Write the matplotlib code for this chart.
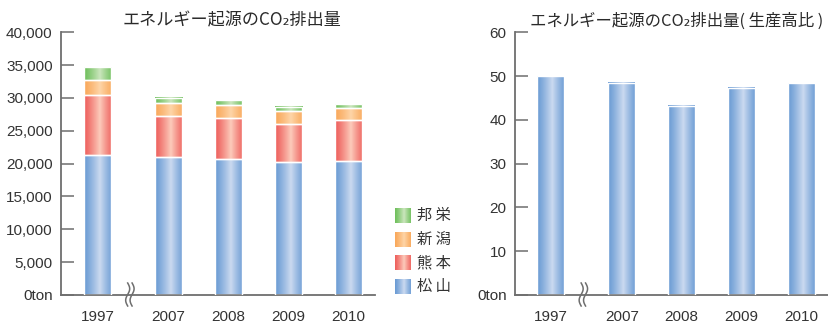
import numpy as np
import matplotlib
matplotlib.use("Agg")
import matplotlib.pyplot as plt
from matplotlib.colors import to_rgb
from matplotlib.transforms import blended_transform_factory

plt.rcParams['font.family'] = ['Liberation Sans', 'Noto Sans CJK JP', 'DejaVu Sans']

# ---- data ----
years = ["1997", "2007", "2008", "2009", "2010"]
matsuyama = [21300, 21000, 20700, 20200, 20400]   # 松山
kumamoto = [9100, 6200, 6300, 5800, 6200]         # 熊本
niigata = [2400, 2000, 2000, 2000, 1900]          # 新潟
houei = [1900, 850, 750, 700, 600]                # 邦栄
ratio = [50.0, 48.5, 43.2, 47.3, 48.4]            # 生産高比

left_ticks = [0, 5000, 10000, 15000, 20000, 25000, 30000, 35000, 40000]
left_ticklabels = ["0ton", "5,000", "10,000", "15,000", "20,000", "25,000",
                   "30,000", "35,000", "40,000"]
right_ticks = [0, 10, 20, 30, 40, 50, 60]
right_ticklabels = ["0ton", "10", "20", "30", "40", "50", "60"]

series_names = ["松 山", "熊 本", "新 潟", "邦 栄"]

# ---- styling ----
positions = np.array([0.0, 1.18, 2.18, 3.18, 4.18])
bar_w = 0.45
break_x = 0.54
shades = {
    "blue": ("#6a9bd4", "#cbdaf0"),
    "red": ("#ee5f5c", "#fccbbb"),
    "orange": ("#f9a85a", "#fed5a8"),
    "green": ("#6fbf5c", "#cbe6bd"),
}
series_colors = ["blue", "red", "orange", "green"]
axis_col = "#6e6e6e"
text_col = "#333333"
title_col = "#2a2a2a"
title_font = ['Noto Sans CJK JP', 'DejaVu Sans']


def gradient(name, n=80):
    dark = np.array(to_rgb(shades[name][0]))
    light = np.array(to_rgb(shades[name][1]))
    x = np.linspace(0, 1, n)
    peak = 0.57
    w = np.where(x < peak, x / peak, 1 - (x - peak) / (1 - peak) * 0.85)
    w = np.clip(w, 0, 1) ** 1.2
    img = dark[None, :] + (light - dark)[None, :] * w[:, None]
    return img[None, :, :]


def shade_bars(ax, bars, name):
    img = gradient(name)
    for p in bars:
        x, y = p.get_x(), p.get_y()
        w, h = p.get_width(), p.get_height()
        if h <= 0:
            continue
        ax.imshow(img, extent=[x, x + w, y, y + h], aspect='auto',
                  interpolation='bilinear', zorder=2)
        p.set_facecolor('none')
        p.set_edgecolor('white')
        p.set_linewidth(1.0)
        p.set_zorder(3)


def style_axes(ax, ticks, labels, ymax, xlim):
    ax.set_xlim(*xlim)
    ax.set_ylim(0, ymax)
    for s in ("top", "right"):
        ax.spines[s].set_visible(False)
    for s in ("left", "bottom"):
        ax.spines[s].set_color(axis_col)
        ax.spines[s].set_linewidth(1.3)
    ax.set_yticks(ticks)
    ax.set_yticklabels(labels)
    ax.set_xticks(positions)
    ax.set_xticklabels(years)
    ax.tick_params(axis='y', direction='in', length=9, width=1.1,
                   color=axis_col, pad=6, labelsize=11, labelcolor=text_col)
    ax.tick_params(axis='x', length=0, pad=11, labelsize=11,
                   labelcolor=text_col)
    ax.set_facecolor('none')


def draw_break(ax, xpos, px_per_unit, ax_h_px):
    tr = blended_transform_factory(ax.transData, ax.transAxes)
    t = np.linspace(0, 1, 60)
    ys = (12 - 23 * t) / ax_h_px
    for off in (-2.2, 2.2):
        xs = xpos + (off + 2.0 * np.sin(2 * np.pi * t)) / px_per_unit
        ax.plot(xs, ys, color=axis_col, lw=1.1, transform=tr,
                clip_on=False, zorder=6)


W, H = 829, 323
fig = plt.figure(figsize=(W / 100, H / 100), dpi=100)

# left: stacked emissions
y0, y_top = 295, 32.3
axL = fig.add_axes([61 / W, (H - y0) / H, (375 - 61) / W, (y0 - y_top) / H])
bottom = np.zeros(len(years))
for vals, cname in zip([matsuyama, kumamoto, niigata, houei], series_colors):
    bars = axL.bar(positions, vals, bar_w, bottom=bottom)
    shade_bars(axL, bars, cname)
    bottom += np.array(vals)
style_axes(axL, left_ticks, left_ticklabels, 40000, (-0.608, 4.625))
draw_break(axL, break_x, 60, y0 - y_top)
axL.set_title("エネルギー起源のCO₂排出量", family=title_font, fontsize=12.3,
              color=title_col, pad=5, x=0.544)

# right: emissions per production
axR = fig.add_axes([515 / W, (H - y0) / H, (828 - 515) / W, (y0 - y_top) / H])
bars = axR.bar(positions, ratio, bar_w)
shade_bars(axR, bars, "blue")
style_axes(axR, right_ticks, right_ticklabels, 60, (-0.6, 4.62))
draw_break(axR, break_x, 60, y0 - y_top)
axR.set_title("エネルギー起源のCO₂排出量( 生産高比 )", family=title_font,
              fontsize=11.8, color=title_col, pad=5, x=0.515)

# legend with gradient swatches, laid out in pixel units
legax = fig.add_axes([0, 0, 1, 1])
legax.set_xlim(0, W)
legax.set_ylim(H, 0)
legax.axis('off')
swatch_tops = [279, 255, 232, 208]
for name, cname, top in zip(series_names, series_colors, swatch_tops):
    legax.imshow(gradient(cname), extent=[395, 411, top + 15, top],
                 aspect='auto', interpolation='bilinear')
    legax.text(417, top + 7.5, name, family=title_font, fontsize=11,
               color=text_col, va='center', ha='left')
legax.set_xlim(0, W)
legax.set_ylim(H, 0)

fig.savefig("out.png", dpi=100)
